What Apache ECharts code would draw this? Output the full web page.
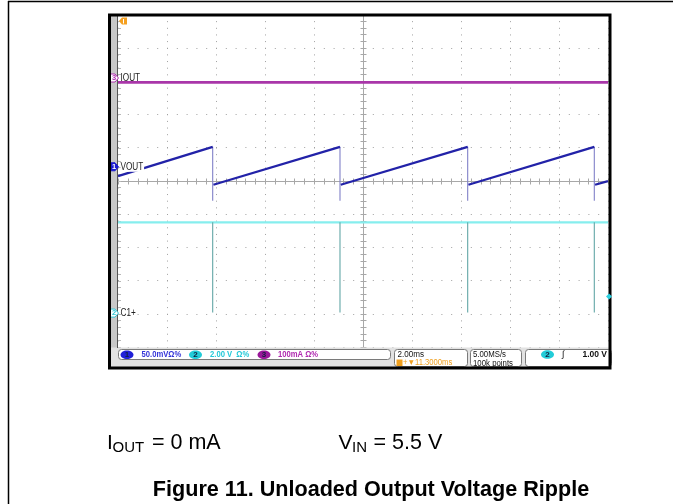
<!DOCTYPE html>
<html><head><meta charset="utf-8">
<script src="https://cdn.jsdelivr.net/npm/echarts@6/dist/echarts.min.js"></script>
<style>html,body{margin:0;padding:0;background:#fff}#c{width:673px;height:504px}</style>
</head><body><div id="c"></div>
<script>
// ---- data read from the scope shot ----
// time base: ms (2 ms/div, 10 div)
const timeRange = [0, 20];
const edgeTimes = [3.865, 9.061, 14.273, 19.441];      // switching instants (ms)
// Channel 1 : VOUT ripple (mV, AC)
const voutStart = -14;
const voutPeak = [30, 30, 30, 30];
const voutTrough = [-27, -27, -27, -27];
const voutDip = [-51, -51, -51, -51];
const voutEnd = -21.5;
// Channel 2 : C1+ (V)
const c1High = 5.46;
const c1Low = 0.03;
// Channel 3 : IOUT (mA)
const ioutLevel = -13;
// channel settings: units per division, ground position (div from centre)
const ch1 = {scale: 50, pos: 0.42};
const ch2 = {scale: 2, pos: -3.98};
const ch3 = {scale: 100, pos: 3.09};
const trigLevel = 1.0; // V on ch2
const statusTexts = {
  ch1: '50.0mVΩ%', ch2: '2.00 V  Ω%', ch3: '100mA Ω%',
  timebase: '2.00ms', delay: '+▼11.3000ms', rate: '5.00MS/s', points: '100k points', trig: '1.00 V'
};

const toDiv = (ch, v) => ch.pos + v / ch.scale;
const FONT = 'Liberation Sans, Arial, sans-serif';

const chart = echarts.init(document.getElementById('c'), null, {renderer: 'canvas'});
const series = [];
const lineBase = {type: 'line', symbol: 'none', silent: true, animation: false, z: 3};

// IOUT
series.push(Object.assign({}, lineBase, {
  data: [[timeRange[0], toDiv(ch3, ioutLevel)], [timeRange[1], toDiv(ch3, ioutLevel)]],
  lineStyle: {color: '#a936a9', width: 2.6}
}));
// C1+ high level
series.push(Object.assign({}, lineBase, {
  data: [[timeRange[0], toDiv(ch2, c1High)], [timeRange[1], toDiv(ch2, c1High)]],
  lineStyle: {color: '#86eeee', width: 2.2}
}));
// C1+ spikes
edgeTimes.forEach(t => series.push(Object.assign({}, lineBase, {
  data: [[t, toDiv(ch2, c1High)], [t, toDiv(ch2, c1Low)]],
  lineStyle: {color: '#62a6a6', width: 1.1}
})));
// VOUT edges (thin)
edgeTimes.forEach((t, i) => series.push(Object.assign({}, lineBase, {
  data: [[t, toDiv(ch1, voutPeak[i])], [t, toDiv(ch1, voutDip[i])]],
  lineStyle: {color: '#8080c8', width: 1.1}
})));
// VOUT ramps
const starts = [[timeRange[0], voutStart]].concat(edgeTimes.map((t, i) => [t, voutTrough[i]]));
const ends = edgeTimes.map((t, i) => [t, voutPeak[i]]).concat([[timeRange[1], voutEnd]]);
starts.forEach((s, i) => series.push(Object.assign({}, lineBase, {
  data: [[s[0] + (i ? 0.03 : 0), toDiv(ch1, s[1])], [ends[i][0], toDiv(ch1, ends[i][1])]],
  lineStyle: {color: '#2222a8', width: 2.3}, z: 4
})));
// centre crosshair with ticks + left edge ticks
series.push({
  type: 'custom', silent: true, animation: false, z: 1,
  data: [[10, 0]],
  renderItem: function (params, api) {
    const ch = [];
    const st = {stroke: '#a8a8a8', lineWidth: 1};
    const tl = api.coord([0, 5]), br = api.coord([20, -5]), c = api.coord([10, 0]);
    const cy = Math.round(c[1]) + 0.5, cx = Math.round(c[0]) + 0.5;
    ch.push({type: 'line', shape: {x1: tl[0], y1: cy, x2: br[0], y2: cy}, style: st});
    ch.push({type: 'line', shape: {x1: cx, y1: tl[1], x2: cx, y2: br[1]}, style: st});
    for (let k = 0; k <= 50; k++) {
      const p = api.coord([k * 0.4, 0]);
      const x = Math.round(p[0]) + 0.5;
      ch.push({type: 'line', shape: {x1: x, y1: cy - 3, x2: x, y2: cy + 3}, style: st});
    }
    for (let k = 0; k <= 50; k++) {
      const p = api.coord([10, -5 + k * 0.2]);
      const y = Math.round(p[1]) + 0.5;
      ch.push({type: 'line', shape: {x1: cx - 3, y1: y, x2: cx + 3, y2: y}, style: st});
      const q = api.coord([0, -5 + k * 0.2]);
      ch.push({type: 'line', shape: {x1: q[0], y1: y, x2: q[0] + 3, y2: y}, style: {stroke: '#b8b8b8', lineWidth: 1}});
    }
    return {type: 'group', children: ch};
  }
});

chart.setOption({
  animation: false,
  backgroundColor: '#ffffff',
  grid: {left: 118, top: 14.5, width: 490, height: 332.5},
  xAxis: {
    type: 'value', min: timeRange[0], max: timeRange[1], interval: 2,
    axisLine: {show: false}, axisTick: {show: false}, axisLabel: {show: false},
    splitLine: {show: true, lineStyle: {color: '#a0a0a0', width: 1, type: [1, 5.65]}}
  },
  yAxis: {
    type: 'value', min: -5, max: 5, interval: 1,
    axisLine: {show: false}, axisTick: {show: false}, axisLabel: {show: false},
    splitLine: {show: true, lineStyle: {color: '#a0a0a0', width: 1, type: [1, 8.8]}}
  },
  series: series
});

// ---- decorations (frame, channel markers, status bar, caption) ----
const P = (x, y) => chart.convertToPixel({gridIndex: 0}, [x, y]);
const g = [];
const txt = (x, y, text, o) => Object.assign({
  type: 'text', x: x, y: y, z: 120,
  style: Object.assign({text: text, x: 0, y: 0, fill: '#222', fontSize: 9, fontFamily: FONT,
    textAlign: 'left', textVerticalAlign: 'middle'}, o || {})
}, (o && o._el) || {});

// page borders
g.push({type: 'line', z: 120, shape: {x1: 8, y1: 1.5, x2: 673, y2: 1.5}, style: {stroke: '#000', lineWidth: 1.5}});
g.push({type: 'line', z: 120, shape: {x1: 8.5, y1: 1, x2: 8.5, y2: 504}, style: {stroke: '#000', lineWidth: 1.5}});

// left grey bar and plot edge
g.push({type: 'rect', z: 110, shape: {x: 110, y: 15, width: 7.5, height: 333}, style: {fill: '#c8c8c8'}});
g.push({type: 'line', z: 111, shape: {x1: 117.5, y1: 15, x2: 117.5, y2: 348}, style: {stroke: '#555', lineWidth: 1}});
// status bar
g.push({type: 'rect', z: 110, shape: {x: 110, y: 347.5, width: 500, height: 20}, style: {fill: '#e2e2e2'}});
const box = (x, y, w, h) => g.push({type: 'rect', z: 111, shape: {x: x, y: y, width: w, height: h, r: 3}, style: {fill: '#fff', stroke: '#7a7a7a', lineWidth: 1}});
box(118.5, 349.5, 272, 10);
box(394.5, 349.5, 73, 17);
box(470.5, 349.5, 51, 17);
box(525.5, 349.5, 86, 17);
const pill = (cx, cy, color, n) => {
  g.push({type: 'ellipse', z: 115, shape: {cx: cx, cy: cy, rx: 6.5, ry: 4.3}, style: {fill: color}});
  g.push(txt(cx, cy + 0.3, n, {fontSize: 8, fontWeight: 'bold', textAlign: 'center', fill: '#102040'}));
};
pill(127, 354.7, '#2020d8', '1');
g.push(txt(141.5, 355, statusTexts.ch1, {fontSize: 8.5, fontWeight: 'bold', fill: '#3434d8', _el: {scaleX: 0.9}}));
pill(195.5, 354.7, '#22ccd8', '2');
g.push(txt(210, 355, statusTexts.ch2, {fontSize: 8.5, fontWeight: 'bold', fill: '#22c8d8', _el: {scaleX: 0.9}}));
pill(264, 354.7, '#9a189a', '3');
g.push(txt(278, 355, statusTexts.ch3, {fontSize: 8.5, fontWeight: 'bold', fill: '#b02ab0', _el: {scaleX: 0.9}}));
g.push(txt(397.5, 354.5, statusTexts.timebase, {fontSize: 8.5, fill: '#111', _el: {scaleX: 0.95}}));
g.push({type: 'rect', z: 115, shape: {x: 396.5, y: 359.5, width: 6, height: 6.5}, style: {fill: '#f0a020'}});
g.push(txt(403, 363, statusTexts.delay, {fontSize: 8.5, fill: '#f0a020', _el: {scaleX: 0.9}}));
g.push(txt(473, 354.5, statusTexts.rate, {fontSize: 8.5, fill: '#111', _el: {scaleX: 0.92}}));
g.push(txt(473, 363.3, statusTexts.points, {fontSize: 8.5, fill: '#111', _el: {scaleX: 0.92}}));
pill(547.5, 354.5, '#22ccd8', '2');
g.push(txt(563, 355, '∫', {fontSize: 9, fill: '#111', textAlign: 'center'}));
g.push(txt(607, 354.5, statusTexts.trig, {fontSize: 8.5, fill: '#111', textAlign: 'right', fontWeight: 'bold'}));
// frame
g.push({type: 'rect', z: 118, shape: {x: 109.5, y: 15, width: 500.5, height: 353}, style: {fill: 'none', stroke: '#000', lineWidth: 3}});

// channel ground markers + labels
const tag = (y, color, n, filled) => {
  g.push({type: 'polygon', z: 116, shape: {points: [[110.5, y - 4], [115, y - 4], [118.5, y], [115, y + 4], [110.5, y + 4]]},
    style: {fill: filled ? color : '#fff', stroke: color, lineWidth: 1}});
  g.push(txt(114, y + 0.3, n, {fontSize: 7.5, fontWeight: 'bold', textAlign: 'center', fill: filled ? '#fff' : color, _el: {z: 117}}));
};
const y3 = P(0, ch3.pos)[1], y1 = P(0, ch1.pos)[1], y2 = P(0, ch2.pos)[1];
tag(y3, '#b030b0', '3', false);
g.push(txt(120.5, y3, 'IOUT', {fontSize: 10, fill: '#222', _el: {scaleX: 0.82}}));
tag(y1, '#1a1ad0', '1', true);
g.push(txt(120.5, y1, 'VOUT', {fontSize: 10, fill: '#222', backgroundColor: '#fff', padding: [0, 1, 0, 0], _el: {scaleX: 0.82}}));
tag(y2, '#30c8d8', '2', false);
g.push(txt(120.5, y2, 'C1+', {fontSize: 10, fill: '#222', _el: {scaleX: 0.82}}));
// trigger level (right) and trigger position (top)
const yt = P(20, toDiv(ch2, trigLevel))[1];
g.push({type: 'polygon', z: 119, shape: {points: [[606, yt], [609, yt - 3], [612, yt], [609, yt + 3]]}, style: {fill: '#30d0e0'}});
g.push({type: 'polygon', z: 119, shape: {points: [[119, 21], [122, 17.5], [127, 17.5], [127, 24.5], [122, 24.5]]}, style: {fill: '#f5a020'}});
g.push({type: 'line', z: 119, shape: {x1: 123.5, y1: 19, x2: 123.5, y2: 23.5}, style: {stroke: '#fff', lineWidth: 1}});

// caption
const CF = {fontSize: 21, fill: '#000', fontFamily: FONT};
g.push(txt(107, 443, 'I', CF));
g.push(txt(112.5, 447.5, 'OUT', Object.assign({}, CF, {fontSize: 15})));
g.push(txt(152, 443, '= 0 mA', Object.assign({}, CF, {fontSize: 21.5})));
g.push(txt(338.5, 443, 'V', CF));
g.push(txt(352, 447.5, 'IN', Object.assign({}, CF, {fontSize: 15})));
g.push(txt(373.5, 443, '= 5.5 V', Object.assign({}, CF, {fontSize: 21.5})));
g.push(txt(371, 490.5, 'Figure 11. Unloaded Output Voltage Ripple', Object.assign({}, CF, {fontSize: 21.6, fontWeight: 'bold', textAlign: 'center'})));

chart.setOption({graphic: {elements: g}});
</script>
</body></html>
